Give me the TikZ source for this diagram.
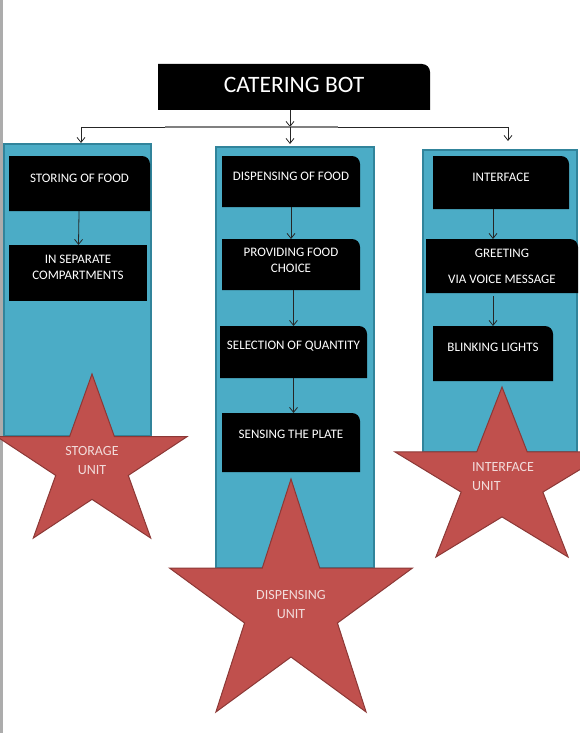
\documentclass[tikz,border=0pt]{standalone}
\usepackage{fontspec}
\setmainfont{Carlito}
\usetikzlibrary{arrows.meta}
\definecolor{colfill}{HTML}{4BACC6}
\definecolor{colline}{HTML}{31849B}
\definecolor{starfill}{HTML}{C0504D}
\definecolor{starline}{HTML}{8C3836}
\definecolor{startxt}{HTML}{F2DCDB}
\pgfdeclarelayer{bottom}
\pgfdeclarelayer{back}
\pgfsetlayers{bottom,back,main}
\tikzset{
  column/.style={fill=colfill, draw=colline, line width=1.2pt, anchor=north west, inner sep=0pt, outer sep=0pt},
  blk/.style={anchor=north west, inner sep=0pt, outer sep=0pt, text=white, align=center, font=\fontsize{13}{16}\selectfont, text depth=11pt},
  startext/.style={text=startxt, align=center, font=\fontsize{14}{19}\selectfont},
  starshape/.style={fill=starfill, draw=starline, line width=1pt},
  link/.style={draw=black!85, line width=0.8pt},
  >={Straight Barb[length=5pt,width=8pt]}
}
\newcommand{\roundfill}[1]{\fill[black] (#1.south west) -- (#1.north west) -- ([xshift=-8pt]#1.north east) arc[start angle=90,end angle=0,radius=8pt] -- (#1.south east) -- cycle;}
\newcommand{\unitstar}[4]{\draw[starshape, shift={(#1,#2)}, xscale=#3, yscale=-#4] (90:1) -- (126:.382) -- (162:1) -- (198:.382) -- (234:1) -- (270:.382) -- (306:1) -- (342:.382) -- (18:1) -- (54:.382) -- cycle;}
\begin{document}
\begin{tikzpicture}[x=1pt, y=-1pt]
	\useasboundingbox (0,0) rectangle (580,733);
	\fill[gray!65] (0,0) rectangle (2.5,733);
	% Unit columns
	\begin{pgfonlayer}{bottom}
		\node[column, minimum width=147, minimum height=292] (storecol) at (4,144) {};
		\node[column, minimum width=158, minimum height=421] (dispcol) at (216,147) {};
		\node[column, minimum width=154, minimum height=302] (intcol) at (423,150) {};
	\end{pgfonlayer}
	% Title node
	\node[blk, minimum width=272, minimum height=46, font=\fontsize{23.5}{28}\selectfont, text depth=5pt] (title) at (158,64) {CATERING BOT};
	% Storage unit nodes
	\node[blk, minimum width=141, minimum height=55] (storing) at (9,156) {STORING OF FOOD};
	\node[blk, minimum width=138, minimum height=56, text depth=12pt] (separate) at (9,245) {IN SEPARATE\\COMPARTMENTS};
	% Dispensing unit nodes
	\node[blk, minimum width=138, minimum height=51] (dispensing) at (222,156) {DISPENSING OF FOOD};
	\node[blk, minimum width=138, minimum height=51, text depth=9pt] (providing) at (222,239) {PROVIDING FOOD\\CHOICE};
	\node[blk, minimum width=147, minimum height=52, text depth=14pt] (selection) at (220,326) {SELECTION OF QUANTITY};
	\node[blk, minimum width=138, minimum height=59, text depth=17pt] (sensing) at (222,413) {SENSING THE PLATE};
	% Interface unit nodes
	\node[blk, minimum width=136, minimum height=53] (interface) at (433,156) {INTERFACE};
	\node[blk, minimum width=152, minimum height=54, text depth=0pt] (greeting) at (426,239) {GREETING\\[10pt]VIA VOICE MESSAGE};
	\node[blk, minimum width=120, minimum height=55, text depth=13pt] (blinking) at (433,326) {BLINKING LIGHTS};
	% Box fills
	\begin{pgfonlayer}{back}
		\foreach \b in {title,storing,dispensing,providing,selection,sensing,interface,greeting,blinking}
			\roundfill{\b}
		\fill[black] (separate.south west) rectangle (separate.north east);
	\end{pgfonlayer}
	% Title connections
	\coordinate (hub) at (290,127);
	\coordinate (lbr) at (81,127);
	\coordinate (rbr) at (508,127);
	\coordinate (gl) at (165,127);
	\coordinate (gr) at (338,127);
	\draw[link, ->] (title.south -| hub) -- (hub);
	\draw[link] (lbr) -- (rbr);
	\draw[gray, line width=1.5pt] (gl) -- (gr);
	\draw[link, ->, shorten >=1pt] (lbr) -- (lbr |- storecol.north);
	\draw[link, ->, shorten >=3pt] (hub) -- (hub |- dispcol.north);
	\draw[link, ->, shorten >=9pt] (rbr) -- (rbr |- intcol.north);
	% Column connections
	\draw[link, ->] (storing) -- (separate);
	\draw[link, ->] (dispensing) -- (providing);
	\draw[link, ->] (providing.south -| selection) -- (selection);
	\draw[link, ->] (selection) -- (selection |- sensing.north);
	\draw[link, ->] (interface.south -| blinking) -- (greeting.north -| blinking);
	\draw[link, ->, shorten <=3pt] (greeting.south -| blinking) -- (blinking);
	% Unit stars
	\unitstar{92}{464.7}{99.9}{90.7}
	\unitstar{291}{607.8}{127.8}{128.8}
	\unitstar{502}{481}{112.5}{94}
	\node[startext] (storage) at (92,460.5) {STORAGE\\UNIT};
	\node[startext] (dispunit) at (291,604.5) {DISPENSING\\UNIT};
	\node[startext, align=left, anchor=west, inner sep=0pt] (intunit) at (472,477) {INTERFACE\\UNIT};
\end{tikzpicture}
\end{document}
